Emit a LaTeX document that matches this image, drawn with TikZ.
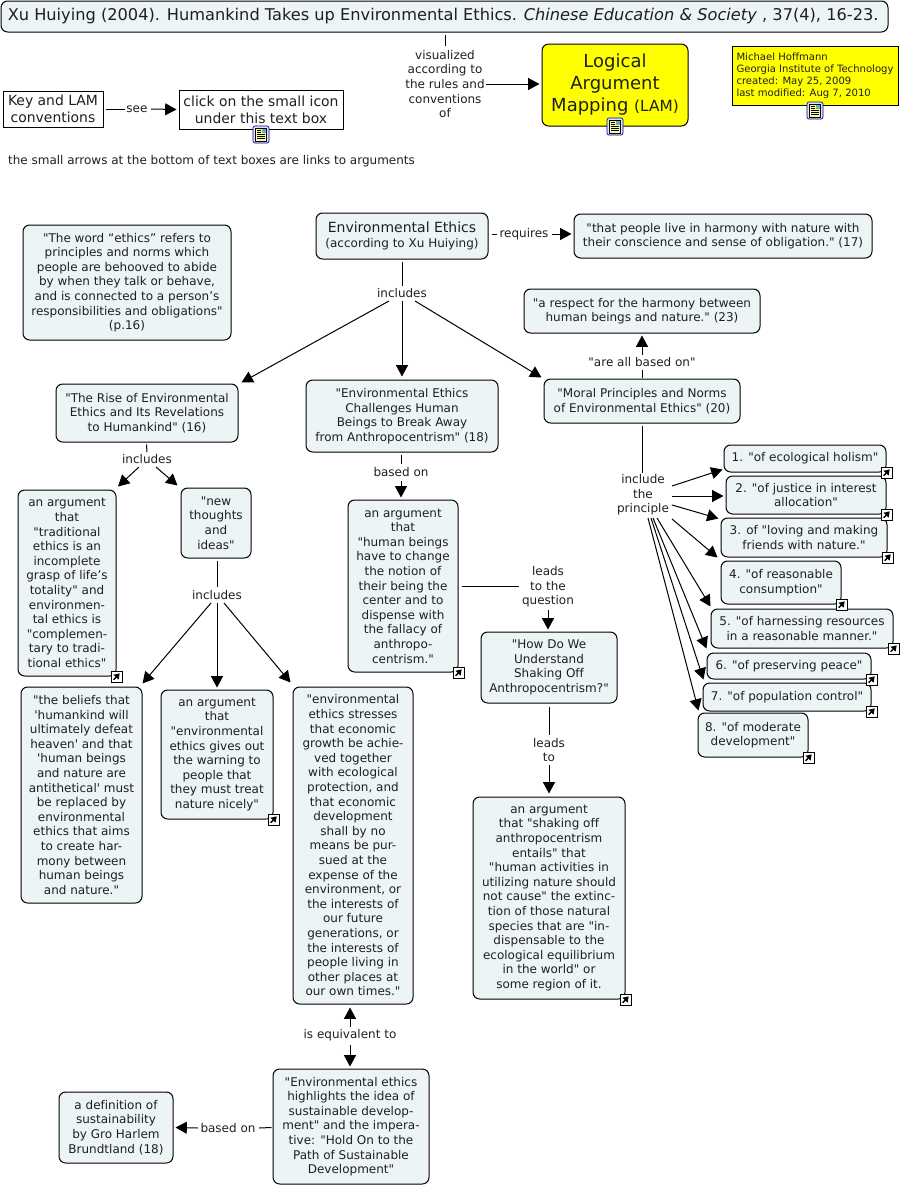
\documentclass[tikz,border=0pt]{standalone}
\usepackage{fontspec}
\setmainfont{DejaVu Sans}[Ligatures={TeXOff,NoCommon}]
\usetikzlibrary{arrows.meta,calc}
\definecolor{bubblefill}{HTML}{EDF4F6}
\definecolor{lamyellow}{HTML}{FFFF00}
\newcommand{\bx}[7][bubble]{%
  \pgfmathsetmacro{\bw}{(#5-#3)*0.75}%
  \pgfmathsetmacro{\bh}{(#6-#4)*0.75}%
  \pgfmathsetmacro{\bcx}{(#5+#3)/2}%
  \pgfmathsetmacro{\bcy}{(#6+#4)/2}%
  \node[#1,minimum width=\bw pt,minimum height=\bh pt] (#2) at (\bcx,\bcy) {#7};}
\tikzset{
  txt/.style={font=\fontsize{9}{10.95}\selectfont,align=center,inner sep=0pt,text=black!88},
  bubble/.style={txt,draw=black,line width=0.75pt,fill=bubblefill,rounded corners=5pt},
  plainbox/.style={txt,draw=black,line width=0.75pt,fill=white,font=\fontsize{10.45}{13}\selectfont},
  lambox/.style={txt,draw=black,line width=0.75pt,fill=lamyellow,rounded corners=5pt,font=\fontsize{13.5}{16.5}\selectfont},
  authorbox/.style={txt,draw=black,line width=0.75pt,fill=lamyellow,align=left,font=\fontsize{7.55}{9.1}\selectfont},
  lab/.style={txt},
  ln/.style={line width=0.75pt,draw=black},
  arr/.style={ln,-{Triangle[length=8.5pt,width=9pt]}},
  noteicon/.pic={
    \draw[draw=blue!60!black,fill=blue!12,line width=0.5pt,rounded corners=1.5pt] (-8,-8.5) rectangle (8,8.5);
    \draw[draw=black,fill=yellow!35,line width=0.5pt] (-5.5,-6.5) rectangle (5.5,6.5);
    \fill[blue!50!green!60] (0.5,-5.5) rectangle (4.5,-1.5);
    \foreach \yy in {-4.5,-2.5} \draw[line width=0.4pt] (-4,\yy) -- (-0.5,\yy);
    \foreach \yy in {0,2,4} \draw[line width=0.4pt] (-4,\yy) -- (4,\yy);
  },
  linkicon/.pic={
    \draw[draw=black,fill=white,line width=0.75pt] (-5.5,-5.5) rectangle (5.5,5.5);
    \draw[line width=1.1pt,-{Triangle[length=4pt,width=5pt]}] (-2.8,3.2) -- (3.2,-3.2);
  }
}
\begin{document}
\begin{tikzpicture}[x=0.75pt,y=-0.75pt]
\useasboundingbox (0,0) rectangle (901,1186);

% top
\bx[bubble,font=\fontsize{12.15}{14}\selectfont]{title}{1}{1}{888}{32}{Xu Huiying (2004). Humankind Takes up Environmental Ethics. \textit{Chinese Education \& Society} , 37(4), 16-23.\hspace{2pt}}
\bx[lambox]{lam}{542}{44}{688}{126}{Logical\\Argument\\Mapping {\fontsize{11.5}{16.5}\selectfont(LAM)}}
\bx[authorbox]{author}{732}{46}{898}{105}{Michael Hoffmann\\Georgia Institute of Technology\\created: May 25, 2009\\last modified: Aug 7, 2010}
\bx[plainbox]{key}{3}{91}{103}{127}{Key and LAM\\conventions}
\bx[plainbox]{click}{179}{90}{343}{129}{click on the small icon\\under this text box}
\node[lab] (note) at (211.5,161) {the small arrows at the bottom of text boxes are links to arguments};
\node[lab] (see) at (137,109) {see};
\node[lab] (vis) at (445,84) {visualized\\according to\\the rules and\\conventions\\of};

% upper map
\bx{ee}{316}{213}{488}{259}{{\fontsize{10.5}{14}\selectfont Environmental Ethics}\\(according to Xu Huiying)}
\bx{harm}{574}{214}{872}{258}{"that people live in harmony with nature with\\their conscience and sense of obligation." (17)}
\bx{word}{23}{225}{231}{340}{"The word “ethics” refers to\\principles and norms which\\people are behooved to abide\\by when they talk or behave,\\and is connected to a person’s\\responsibilities and obligations"\\(p.16)}
\bx{respect}{524}{289}{760}{333}{"a respect for the harmony between\\human beings and nature." (23)}
\bx{rise}{56}{384}{238}{442}{"The Rise of Environmental\\Ethics and Its Revelations\\to Humankind" (16)}
\bx{chall}{306}{380}{498}{452}{"Environmental Ethics\\Challenges Human\\Beings to Break Away\\from Anthropocentrism" (18)}
\bx{moral}{544}{379}{740}{423}{"Moral Principles and Norms\\of Environmental Ethics" (20)}

\node[lab] (req) at (524,234) {requires};
\node[lab] (inc) at (402,293) {includes};
\node[lab] (abo) at (642,362) {"are all based on"};
\node[lab] (pri) at (643,495) {include\\the\\principle};

% principles
\bx{p1}{724}{445}{886}{472}{1. "of ecological holism"}
\bx{p2}{726}{476}{886}{514}{2. "of justice in interest\\allocation"}
\bx{p3}{721}{518}{887}{557}{3. of "loving and making\\friends with nature."}
\bx{p4}{721}{561}{841}{604}{4. "of reasonable\\consumption"}
\bx{p5}{711}{609}{893}{648}{5. "of harnessing resources\\in a reasonable manner."}
\bx{p6}{707}{653}{871}{679}{6. "of preserving peace"}
\bx{p7}{703}{683}{871}{711}{7. "of population control"}
\bx{p8}{698}{713}{808}{757}{8. "of moderate\\development"}

% lower left
\bx{trad}{18}{490}{116}{676}{an argument\\that\\"traditional\\ethics is an\\incomplete\\grasp of life’s\\totality" and\\environmen-\\tal ethics is\\"complemen-\\tary to tradi-\\tional ethics"}
\bx{new}{181}{488}{251}{558}{"new\\thoughts\\and\\ideas"}
\bx{beliefs}{21}{687}{142}{903}{"the beliefs that\\'humankind will\\ultimately defeat\\heaven' and that\\'human beings\\and nature are\\antithetical' must\\be replaced by\\environmental\\ethics that aims\\to create har-\\mony between\\human beings\\and nature."}
\bx{warn}{161}{690}{273}{819}{an argument\\that\\"environmental\\ethics gives out\\the warning to\\people that\\they must treat\\nature nicely"}
\bx{stress}{293}{687}{413}{1004}{"environmental\\ethics stresses\\that economic\\growth be achie-\\ved together\\with ecological\\protection, and\\that economic\\development\\shall by no\\means be pur-\\sued at the\\expense of the\\environment, or\\the interests of\\our future\\generations, or\\the interests of\\people living in\\other places at\\our own times."}
\bx{human}{348}{500}{458}{672}{an argument\\that\\"human beings\\have to change\\the notion of\\their being the\\center and to\\dispense with\\the fallacy of\\anthropo-\\centrism."}
\bx{how}{481}{632}{617}{703}{"How Do We\\Understand\\Shaking Off\\Anthropocentrism?"}
\bx{shake}{473}{797}{625}{999}{an argument\\that "shaking off\\anthropocentrism\\entails" that\\"human activities in\\utilizing nature should\\not cause" the extinc-\\tion of those natural\\species that are "in-\\dispensable to the\\ecological equilibrium\\in the world" or\\some region of it.}
\bx{high}{273}{1069}{429}{1184}{"Environmental ethics\\highlights the idea of\\sustainable develop-\\ment" and the impera-\\tive: "Hold On to the\\Path of Sustainable\\Development"}
\bx{defn}{59}{1092}{173}{1163}{a definition of\\sustainability\\by Gro Harlem\\Brundtland (18)}

\node[lab] (inc2) at (147,459) {includes};
\node[lab] (bas) at (401,472) {based on};
\node[lab] (inc3) at (217,595) {includes};
\node[lab] (ltq) at (548,587) {leads\\to the\\question};
\node[lab] (lto) at (549,750) {leads\\to};
\node[lab] (eqv) at (350,1035) {is equivalent to};
\node[lab] (bas2) at (228,1128) {based on};

% connectors: top
\draw[ln] ($(key.east)+(2,0)$) -- ($(see)+(-12,0)$);
\draw[arr] ($(see)+(14,0)$) -- ($(click.west)+(-2,0)$);
\draw[ln] ($(vis)+(0,-49)$) -- ($(vis)+(0,-38)$);
\draw[arr] ($(vis)+(41,0)$) -- ($(lam.west)+(-2,-1)$);

% connectors: upper map
\draw[ln] ($(ee.east)+(3,-2)$) -- ($(req)+(-27,0)$);
\draw[arr] ($(req)+(28,0)$) -- ($(harm.west)+(-2,-2)$);
\draw[ln] ($(ee.south)+(0,2)$) -- ($(inc)+(0,-7)$);
\draw[arr] ($(inc)+(0,8)$) -- ($(chall.north)+(0,-3)$);
\draw[arr] ($(inc)+(-13,8)$) -- ($(rise.north east)+(3,-1)$);
\draw[arr] ($(inc)+(13,8)$) -- ($(moral.north west)+(-2,-1)$);
\draw[ln] ($(moral.north)+(0,-1)$) -- ($(abo)+(0,8)$);
\draw[arr] ($(abo)+(0,-7)$) -- ($(respect.south)+(0,2)$);
\draw[ln] ($(moral.south)+(0,2)$) -- ($(pri)+(-1,-22)$);

% connectors: principles
\draw[arr] ($(pri)+(29,-9)$) -- ($(p1.south west)+(-1,-3)$);
\draw[arr] ($(pri)+(29,1)$) -- ($(p2.west)+(-2,1)$);
\draw[arr] ($(pri)+(29,10)$) -- ($(p3.north west)+(-2,1)$);
\draw[arr] ($(pri)+(29,24)$) -- ($(p4.west)+(-3,-25)$);
\draw[arr] ($(pri)+(14,23)$) -- ($(p5.north west)+(0,-2)$);
\draw[arr] ($(pri)+(10,23)$) -- ($(p6.north west)+(0,-4)$);
\draw[arr] ($(pri)+(8,23)$) -- ($(p7.north west)+(1,-3)$);
\draw[arr] ($(pri)+(5,23)$) -- ($(p8.north west)+(1,-2)$);

% connectors: lower
\draw[ln] ($(rise.south)+(-0.5,2)$) -- ($(inc2)+(0,-7)$);
\draw[arr] ($(inc2)+(-8,8)$) -- ($(trad.north)+(51,-3)$);
\draw[arr] ($(inc2)+(9,8)$) -- ($(new.north west)+(-3,-2)$);
\draw[ln] ($(chall.south)+(-1,2)$) -- ($(bas)+(0,-8)$);
\draw[arr] ($(bas)+(0,9)$) -- ($(human.north)+(-2,-2)$);
\draw[ln] ($(new.south)+(1,2)$) -- ($(inc3)+(0,-8)$);
\draw[arr] ($(inc3)+(0,8)$) -- ($(warn.north)+(0,-2)$);
\draw[arr] ($(inc3)+(-6,8)$) -- ($(beliefs.north east)+(0,-3)$);
\draw[arr] ($(inc3)+(7,8)$) -- ($(stress.north west)+(-2,-4)$);
\draw[ln] ($(human.east)+(3,0)$) -- ($(ltq)+(-29,-1)$);
\draw[arr] ($(ltq)+(0,23)$) -- ($(how.north)+(-1,-2)$);
\draw[ln] ($(how.south)+(0,3)$) -- ($(lto)+(0,-15)$);
\draw[arr] ($(lto)+(0,15)$) -- ($(shake.north)+(0,-3)$);
\draw[arr] ($(eqv)+(0,-8)$) -- ($(stress.south)+(-3,3)$);
\draw[arr] ($(eqv)+(0,10)$) -- ($(high.north)+(-1,-2)$);
\draw[ln] ($(high.west)+(-1,1)$) -- ($(bas2)+(31,0)$);
\draw[arr] ($(bas2)+(-30,0)$) -- ($(defn.east)+(2,0)$);

% icons
\pic at ($(click.south)+(0,5)$) {noteicon};
\pic at (lam.south) {noteicon};
\pic at ($(author.south)+(0,5)$) {noteicon};
\foreach \nn in {p1,p2,p3,p4,p5,p6,p7,p8,trad,warn,human,shake}
  \pic at (\nn.south east) {linkicon};
\end{tikzpicture}
\end{document}
